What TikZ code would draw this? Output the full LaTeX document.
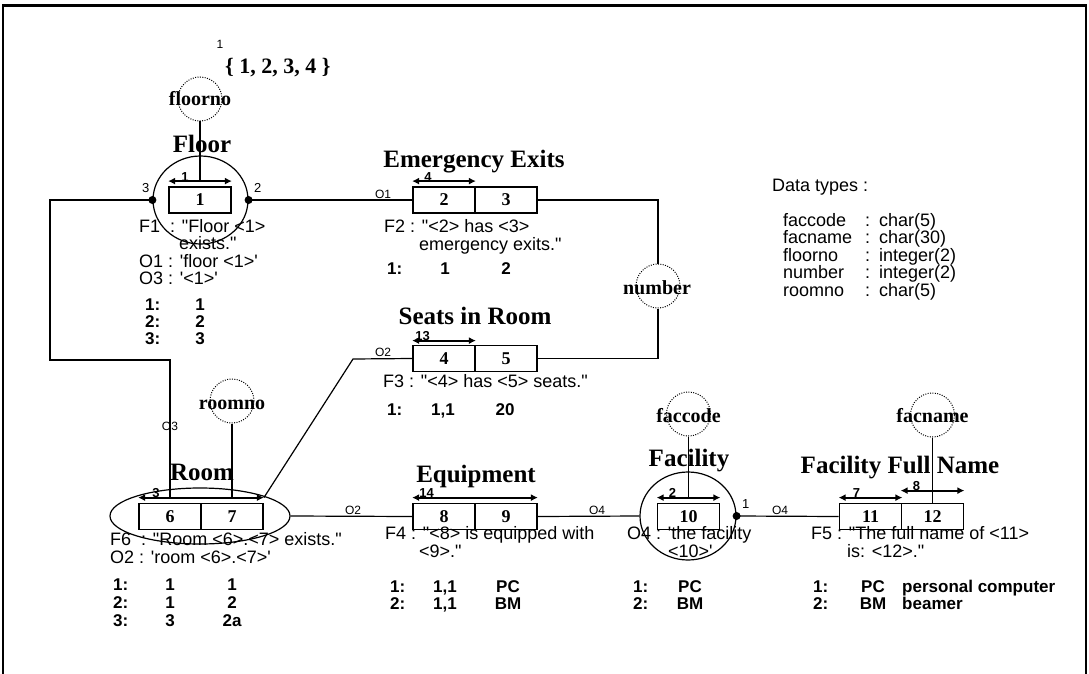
\documentclass[tikz,border=0pt]{standalone}
\usepackage{fontspec}
\setmainfont{Liberation Serif}
\newfontfamily\sansf{Liberation Sans}
\usetikzlibrary{shapes.geometric,arrows.meta}
\tikzset{
  rolebox/.style={draw, line width=1.8pt, rectangle, minimum width=62pt, minimum height=26pt, inner sep=0pt, font=\bfseries\fontsize{18}{18}\selectfont},
  objtype/.style={draw, ellipse, line width=1.2pt, inner sep=0pt},
  valtype/.style={draw, circle, line width=1pt, dash pattern=on 1pt off 1.4pt, minimum size=44pt, inner sep=0pt},
  vtext/.style={font=\bfseries\fontsize{20}{20}\selectfont, anchor=base, inner sep=0pt},
  ttl/.style={font=\bfseries\fontsize{25}{25}\selectfont, anchor=base, inner sep=0pt},
  txt/.style={font=\sansf\fontsize{18}{18}\selectfont, anchor=base west, inner sep=0pt},
  rowlab/.style={font=\sansf\bfseries\fontsize{17}{17}\selectfont, anchor=base west, inner sep=0pt},
  cell/.style={font=\sansf\bfseries\fontsize{17}{17}\selectfont, anchor=base, inner sep=0pt},
  smalllab/.style={font=\sansf\fontsize{12}{12}\selectfont, anchor=base, inner sep=0pt},
  dotlab/.style={font=\sansf\fontsize{13}{13}\selectfont, anchor=base west, inner sep=0pt},
  alab/.style={font=\sansf\bfseries\fontsize{13}{13}\selectfont, anchor=base west, inner sep=0pt},
  conn/.style={line width=1.2pt},
  rarrow/.style={line width=1.8pt, {Latex[length=7pt,width=7pt]}-{Latex[length=7pt,width=7pt]}},
  dot/.style={circle, fill, minimum size=8pt, inner sep=0pt},
}
\begin{document}
\begin{tikzpicture}[x=1pt,y=-1pt]
\useasboundingbox (0,0) rectangle (1089,674);
% frame
\coordinate (fbl) at (3,674);
\coordinate (ftl) at (3,6);
\coordinate (ftr) at (1086,6);
\coordinate (fbr) at (1086,674);
\draw[line width=2pt] (fbl) -- (ftl);
\draw[line width=2pt] (fbr) -- (ftr);
\draw[line width=3pt] ([xshift=-1pt]ftl) -- ([xshift=1pt]ftr);

% value constraint
\node[smalllab] (vc1) at (220,49) {1};
\node[font=\bfseries\fontsize{22}{22}\selectfont, anchor=base west, inner sep=0pt] (vcset) at (225,74) {\{ 1, 2, 3, 4 \}};

% role boxes
\node[rolebox] (b1) at (200,200) {1};
\node[rolebox] (b2) at (444,200) {2};
\node[rolebox] (b3) at (506,200) {3};
\node[rolebox] (b4) at (444,358.5) {4};
\node[rolebox] (b5) at (506,358.5) {5};
\node[rolebox] (b6) at (170,516.5) {6};
\node[rolebox] (b7) at (232,516.5) {7};
\node[rolebox] (b8) at (444,516.5) {8};
\node[rolebox] (b9) at (506,516.5) {9};
\node[rolebox] (b10) at (688.5,516.5) {10};
\node[rolebox] (b11) at (870.5,516.5) {11};
\node[rolebox] (b12) at (932.5,516.5) {12};

% object types
\node[objtype, minimum width=95pt, minimum height=88pt] (floor) at (200.5,200) {};
\node[objtype, minimum width=180pt, minimum height=56pt] (room) at (200,516) {};
\node[objtype, minimum width=96pt, minimum height=88pt] (facility) at (688,516) {};

% value types
\node[valtype] (floorno) at (200,99) {};
\node[vtext] (floornoT) at (200,106) {floorno};
\node[valtype] (roomno) at (232,401) {};
\node[vtext] (roomnoT) at (232,409) {roomno};
\node[valtype] (number) at (658,286) {};
\node[vtext] (numberT) at (657,294) {number};
\node[valtype] (faccode) at (688.5,414) {};
\node[vtext] (faccodeT) at (688.5,422) {faccode};
\node[valtype] (facname) at (932.5,415) {};
\node[vtext] (facnameT) at (932.5,422) {facname};

% titles
\node[ttl] (tFloor) at (202,152) {Floor};
\node[ttl] (tEE) at (474,167) {Emergency Exits};
\node[ttl] (tSeats) at (475,324) {Seats in Room};
\node[ttl] (tRoom) at (202,480) {Room};
\node[ttl] (tEquip) at (476,482) {Equipment};
\node[ttl] (tFac) at (689,466) {Facility};
\node[ttl] (tFFN) at (900,473) {Facility Full Name};

% uniqueness arrows
\draw[rarrow] ([yshift=5pt]b1.north west) -- ([yshift=5pt]b1.north east);
\draw[rarrow] ([yshift=5pt]b2.north west) -- ([yshift=5pt]b2.north east);
\draw[rarrow] ([yshift=4pt]b4.north west) -- ([yshift=4pt]b4.north east);
\draw[rarrow] ([yshift=5pt]b6.north west) -- ([yshift=5pt]b7.north east);
\draw[rarrow] ([yshift=5pt]b8.north west) -- ([yshift=5pt]b9.north east);
\draw[rarrow] ([yshift=5pt]b10.north west) -- ([yshift=5pt]b10.north east);
\draw[rarrow] ([yshift=5pt]b11.north west) -- ([yshift=5pt]b11.north east);
\draw[rarrow] ([yshift=12pt]b12.north west) -- ([yshift=12pt]b12.north east);
\node[alab] (u1) at ([xshift=13pt,yshift=5pt]b1.north west) {1};
\node[alab] (u2) at ([xshift=12pt,yshift=5pt]b2.north west) {4};
\node[alab] (u3) at ([xshift=3pt,yshift=4pt]b4.north west) {13};
\node[alab] (u4) at ([xshift=14pt,yshift=5pt]b6.north west) {3};
\node[alab] (u5) at ([xshift=7pt,yshift=5pt]b8.north west) {14};
\node[alab] (u6) at ([xshift=12pt,yshift=5pt]b10.north west) {2};
\node[alab] (u7) at ([xshift=14pt,yshift=5pt]b11.north west) {7};
\node[alab] (u8) at ([xshift=12pt,yshift=12pt]b12.north west) {8};

% value type links
\draw[conn] (floorno.south) -- ([yshift=5pt]b1.north);
\draw[conn] (roomno.south) -- ([yshift=5pt]b7.north);
\draw[conn] (faccode.south) -- ([yshift=5pt]b10.north);
\draw[conn] (facname.south) -- (b12.north);
\draw[conn] (b3.east) -| (number.north);
\draw[conn] (number.south) |- (b5.east);

% dots
\node[dot] (d3) at (floor.west) {};
\node[dot] (d2) at (floor.east) {};
\node[dot] (d1) at (facility.east) {};
\node[dotlab] (ld3) at (142,192) {3};
\node[dotlab] (ld2) at (254,192) {2};
\node[dotlab] (ld1) at (742,508) {1};

% connectors
\coordinate (bendA) at (50,360);
\coordinate (bendB) at (353,359);
\draw[conn] (d3.center) -| (bendA) -| ([yshift=5pt]b6.north);
\draw[conn] (d2.center) -- (b2.west);
\draw[conn] (b4.west) -- (bendB) -- ([yshift=5pt]b7.north east);
\draw[conn] (room.east) -- (b8.west);
\draw[conn] (b9.east) -- (facility.west);
\draw[conn] (d1.center) -- (b11.west);
\node[smalllab] (lO1) at (383,198) {O1};
\node[smalllab] (lO2a) at (383,356) {O2};
\node[smalllab] (lO3) at (170,430) {O3};
\node[smalllab] (lO2b) at (353,514) {O2};
\node[smalllab] (lO4a) at (597,514) {O4};
\node[smalllab] (lO4b) at (780,514) {O4};

% Floor texts
\node[txt] (f1a) at (139,232) {F1\ \ : "Floor <1>};
\node[txt] (f1b) at (179,249) {exists."};
\node[txt] (f1c) at (139,267) {O1 : 'floor <1>'};
\node[txt] (f1d) at (139,284) {O3 : '<1>'};
\node[rowlab] (f1r1) at (145,310) {1:};
\node[rowlab] (f1r2) at (145,327) {2:};
\node[rowlab] (f1r3) at (145,344) {3:};
\node[cell] (f1v1) at (200,310) {1};
\node[cell] (f1v2) at (200,327) {2};
\node[cell] (f1v3) at (200,344) {3};

% Emergency exits texts
\node[txt] (f2a) at (384,232) {F2 : "<2> has <3>};
\node[txt] (f2b) at (419,250) {emergency exits."};
\node[rowlab] (f2r1) at (387,274) {1:};
\node[cell] (f2v1) at (445,274) {1};
\node[cell] (f2v2) at (506,274) {2};

% Seats texts
\node[txt] (f3a) at (383,387) {F3 : "<4> has <5> seats."};
\node[rowlab] (f3r1) at (387,415) {1:};
\node[cell] (f3v1) at (443,415) {1,1};
\node[cell] (f3v2) at (505,415) {20};

% Room texts
\node[txt] (f6a) at (110,545) {F6\ \ : "Room <6>.<7> exists."};
\node[txt] (f6b) at (110,563) {O2 : 'room <6>.<7>'};
\node[rowlab] (f6r1) at (113,590) {1:};
\node[rowlab] (f6r2) at (113,608) {2:};
\node[rowlab] (f6r3) at (113,626) {3:};
\node[cell] (f6v11) at (170,590) {1};
\node[cell] (f6v21) at (170,608) {1};
\node[cell] (f6v31) at (170,626) {3};
\node[cell] (f6v12) at (232,590) {1};
\node[cell] (f6v22) at (232,608) {2};
\node[cell] (f6v32) at (232,626) {2a};

% Equipment texts
\node[txt] (f4a) at (385,539) {F4 : "<8> is equipped with};
\node[txt] (f4b) at (419,557) {<9>."};
\node[rowlab] (f4r1) at (390,592) {1:};
\node[rowlab] (f4r2) at (390,609) {2:};
\node[cell] (f4v11) at (445,592) {1,1};
\node[cell] (f4v21) at (445,609) {1,1};
\node[cell] (f4v12) at (508,592) {PC};
\node[cell] (f4v22) at (508,609) {BM};

% Facility texts
\node[txt] (o4a) at (627,539) {O4 : 'the facility};
\node[txt] (o4b) at (668,557) {<10>'};
\node[rowlab] (facr1) at (633,592) {1:};
\node[rowlab] (facr2) at (633,609) {2:};
\node[cell] (facv1) at (690,592) {PC};
\node[cell] (facv2) at (690,609) {BM};

% Facility full name texts
\node[txt] (f5a) at (811,539) {F5 : "The full name of <11>};
\node[txt] (f5b) at (847,557) {is: <12>."};
\node[rowlab] (f5r1) at (813,592) {1:};
\node[rowlab] (f5r2) at (813,609) {2:};
\node[cell] (f5v11) at (873,592) {PC};
\node[cell] (f5v21) at (873,609) {BM};
\node[rowlab] (f5v12) at (902,592) {personal computer};
\node[rowlab] (f5v22) at (902,609) {beamer};

% Data types
\node[txt] (dt) at (772,191) {Data types :};
\node[txt] (dtn1) at (783,226) {faccode};
\node[txt] (dtn2) at (783,243) {facname};
\node[txt] (dtn3) at (783,261) {floorno};
\node[txt] (dtn4) at (783,278) {number};
\node[txt] (dtn5) at (783,296) {roomno};
\node[txt] (dtc1) at (865,226) {:};
\node[txt] (dtc2) at (865,243) {:};
\node[txt] (dtc3) at (865,261) {:};
\node[txt] (dtc4) at (865,278) {:};
\node[txt] (dtc5) at (865,296) {:};
\node[txt] (dtv1) at (879,226) {char(5)};
\node[txt] (dtv2) at (879,243) {char(30)};
\node[txt] (dtv3) at (879,261) {integer(2)};
\node[txt] (dtv4) at (879,278) {integer(2)};
\node[txt] (dtv5) at (879,296) {char(5)};
\end{tikzpicture}
\end{document}
